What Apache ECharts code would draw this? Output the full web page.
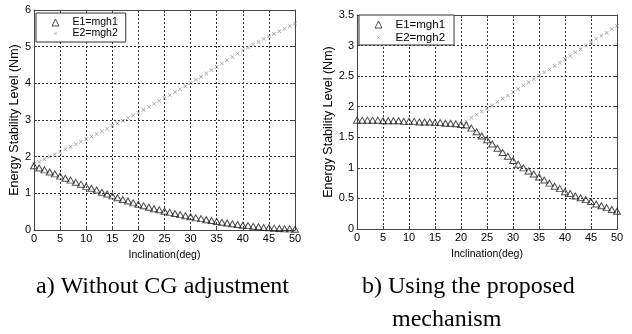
<!DOCTYPE html>
<html>
<head>
<meta charset="utf-8">
<script src="https://cdn.jsdelivr.net/npm/echarts@6/dist/echarts.min.js"></script>
<style>html,body{margin:0;padding:0;background:#fff;}#c{width:632px;height:334px;}</style>
</head>
<body>
<div id="c"></div>
<script>
// Inclination (deg)
var inclination = [0,1,2,3,4,5,6,7,8,9,10,11,12,13,14,15,16,17,18,19,20,21,22,23,24,25,26,27,28,29,30,31,32,33,34,35,36,37,38,39,40,41,42,43,44,45,46,47,48,49,50];
// a) Without CG adjustment
var aE1 = [1.75,1.69,1.64,1.58,1.53,1.47,1.41,1.36,1.30,1.25,1.19,1.14,1.09,1.03,0.98,0.93,0.88,0.83,0.79,0.74,0.70,0.66,0.62,0.58,0.55,0.51,0.48,0.45,0.42,0.39,0.36,0.33,0.31,0.28,0.26,0.23,0.21,0.19,0.17,0.15,0.13,0.12,0.10,0.09,0.07,0.06,0.05,0.04,0.03,0.03,0.02];
var aE2 = [1.80,1.86,1.93,2.00,2.06,2.13,2.20,2.27,2.34,2.41,2.48,2.55,2.62,2.69,2.76,2.84,2.91,2.98,3.05,3.12,3.20,3.28,3.36,3.44,3.52,3.60,3.68,3.76,3.84,3.92,4.01,4.10,4.18,4.27,4.36,4.45,4.54,4.63,4.72,4.81,4.90,4.98,5.06,5.13,5.21,5.28,5.35,5.42,5.49,5.56,5.63];
// b) Using the proposed mechanism
var bE1 = [1.78,1.78,1.78,1.78,1.78,1.77,1.77,1.77,1.77,1.76,1.76,1.76,1.75,1.75,1.75,1.74,1.74,1.73,1.73,1.72,1.71,1.70,1.65,1.59,1.52,1.46,1.39,1.32,1.25,1.19,1.12,1.06,1.00,0.95,0.90,0.85,0.80,0.75,0.70,0.66,0.61,0.58,0.54,0.51,0.48,0.45,0.41,0.38,0.35,0.32,0.29];
var bE2 = [null,null,null,null,null,null,null,null,null,null,null,null,null,null,null,null,null,null,null,null,null,1.76,1.82,1.87,1.92,1.97,2.02,2.08,2.13,2.18,2.24,2.29,2.35,2.40,2.45,2.51,2.56,2.61,2.67,2.72,2.78,2.83,2.89,2.94,3.00,3.05,3.11,3.16,3.21,3.27,3.32];
// ticks
var xTicks = [0,5,10,15,20,25,30,35,40,45,50];
var aYTicks = [0,1,2,3,4,5,6];
var bYTicks = [0,0.5,1,1.5,2,2.5,3,3.5];
var names = ['E1=mgh1','E2=mgh2'];

function pairs(xs, ys){ var out=[]; for(var i=0;i<xs.length;i++){ if(ys[i]!==null) out.push([xs[i], ys[i]]); } return out; }

var FONT = "'Liberation Sans', Arial, sans-serif";
var SERIF = "24px 'Liberation Serif', 'Times New Roman', serif";
var crossPath = 'path://M0,1L1,0L5,4L9,0L10,1L6,5L10,9L9,10L5,6L1,10L0,9L4,5Z';
var crossIcon = 'path://M0,0L0.001,0L0,0.001Z M20,20L20.001,20L20,20.001Z M6,7L7,6L10,9L13,6L14,7L11,10L14,13L13,14L10,11L7,14L6,13L9,10Z';

var chart = echarts.init(document.getElementById('c'), null, {renderer:'canvas'});

function xAxes(gi){
  return [
    {gridIndex:gi, type:'value', min:xTicks[0], max:xTicks[xTicks.length-1], interval:xTicks[1]-xTicks[0], position:'bottom',
     name:'Inclination(deg)', nameLocation:'middle', nameGap:20, nameTextStyle:{fontFamily:FONT,fontSize:10.5,color:'#000'},
     axisLine:{show:true,onZero:false,lineStyle:{color:'#444',width:1}},
     axisTick:{show:true,inside:true,length:3,lineStyle:{color:'#444'}},
     axisLabel:{fontFamily:FONT,fontSize:11,color:'#000',margin:3},
     splitLine:{show:true,lineStyle:{color:'#333',type:[2,2],width:1}}},
    {gridIndex:gi, type:'value', min:xTicks[0], max:xTicks[xTicks.length-1], interval:xTicks[1]-xTicks[0], position:'top',
     axisLine:{show:true,onZero:false,lineStyle:{color:'#444',width:1}},
     axisTick:{show:true,inside:true,length:3,lineStyle:{color:'#444'}},
     axisLabel:{show:false}, splitLine:{show:false}}
  ];
}
function yAxes(gi, ticks, gap){
  return [
    {gridIndex:gi, type:'value', min:ticks[0], max:ticks[ticks.length-1], interval:ticks[1]-ticks[0], position:'left',
     name:'Energy Stability Level (Nm)', nameLocation:'middle', nameGap:gap, nameTextStyle:{fontFamily:FONT,fontSize:12.5,color:'#000'},
     axisLine:{show:true,onZero:false,lineStyle:{color:'#444',width:1}},
     axisTick:{show:true,inside:true,length:3,lineStyle:{color:'#444'}},
     axisLabel:{fontFamily:FONT,fontSize:11,color:'#000',margin:3},
     splitLine:{show:true,lineStyle:{color:'#333',type:[2,2],width:1}}},
    {gridIndex:gi, type:'value', min:ticks[0], max:ticks[ticks.length-1], interval:ticks[1]-ticks[0], position:'right',
     axisLine:{show:true,onZero:false,lineStyle:{color:'#444',width:1}},
     axisTick:{show:true,inside:true,length:3,lineStyle:{color:'#444'}},
     axisLabel:{show:false}, splitLine:{show:false}}
  ];
}

var triStyle = {color:'rgba(0,0,0,0)', borderColor:'#222', borderWidth:1};
var crossStyle = {color:'#777'};

function legend(left, top, fs, lh, pad){
  return {
    left:left, top:top, orient:'vertical', itemGap:0, itemWidth:7, itemHeight:7,
    padding:pad, borderColor:'#333', borderWidth:1, backgroundColor:'#fff', selectedMode:false,
    textStyle:{fontFamily:FONT,fontSize:fs,color:'#000',lineHeight:lh,padding:[0,0,0,8.5]},
    data:[{name:names[0], icon:'triangle', itemStyle:triStyle},{name:names[1], icon:crossIcon, itemStyle:crossStyle}]
  };
}

var option = {
  animation:false,
  backgroundColor:'#fff',
  grid:[
    {left:34, top:10, width:261, height:220, show:false},
    {left:357, top:15, width:260, height:214, show:false}
  ],
  xAxis: xAxes(0).concat(xAxes(1)),
  yAxis: yAxes(0, aYTicks, 11).concat(yAxes(1, bYTicks, 20)),
  legend:[
    legend(36, 13, 10.5, 11, [4,8,3,15.5]),
    legend(359, 15, 11.5, 13, [3,9,1,15.5])
  ],
  series:[
    {name:names[0], type:'scatter', xAxisIndex:0, yAxisIndex:0, symbol:'triangle', symbolSize:[7,6], itemStyle:triStyle, data:pairs(inclination, aE1), z:3},
    {name:names[1], type:'scatter', xAxisIndex:0, yAxisIndex:0, symbol:crossPath, symbolSize:4, itemStyle:crossStyle, data:pairs(inclination, aE2), z:2},
    {name:names[0], type:'scatter', xAxisIndex:2, yAxisIndex:2, symbol:'triangle', symbolSize:[7,6], itemStyle:triStyle, data:pairs(inclination, bE1), z:3},
    {name:names[1], type:'scatter', xAxisIndex:2, yAxisIndex:2, symbol:crossPath, symbolSize:4, itemStyle:crossStyle, data:pairs(inclination, bE2), z:2}
  ],
  graphic:[
    {type:'text', left:36, top:275, style:{text:'a) Without CG adjustment', font:SERIF, fill:'#000'}},
    {type:'text', left:362, top:275, style:{text:'b) Using the proposed', font:SERIF, fill:'#000'}},
    {type:'text', left:392, top:308, style:{text:'mechanism', font:SERIF, fill:'#000'}}
  ]
};
chart.setOption(option);
</script>
</body>
</html>
